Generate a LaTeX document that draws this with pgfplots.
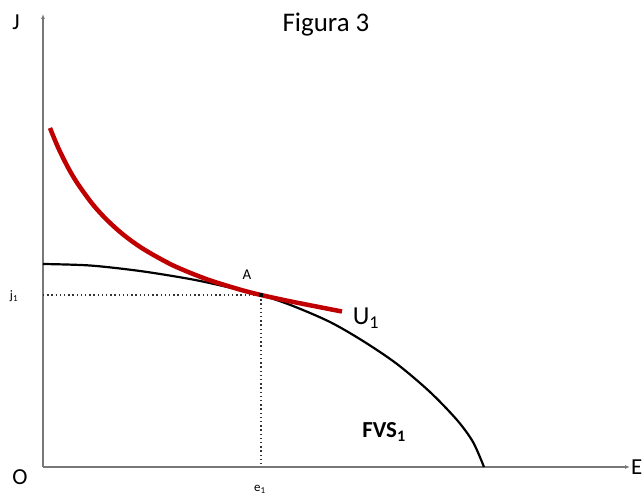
\documentclass[border=0pt]{standalone}
\usepackage{pgfplots}
\pgfplotsset{compat=1.18}
\usepackage{fontspec}
\setmainfont{Carlito}
\usetikzlibrary{arrows.meta}
\definecolor{ucurve}{RGB}{192,0,0}
\definecolor{axgray}{RGB}{120,120,120}
\begin{document}
\begin{tikzpicture}
\begin{axis}[
    name=main,
    scale only axis,
    width=644bp, height=496bp,
    xmin=-43, xmax=601,
    ymin=-29, ymax=467,
    hide axis,
    clip=false,
]
% axes
\addplot[axgray, line width=1.3bp, -{Latex[length=5bp,width=4bp]}] coordinates {(0,0) (0,453)};
\addplot[axgray, line width=1.3bp, -{Latex[length=5bp,width=4bp]}] coordinates {(0,0) (587,0)};
% dotted guides to A
\addplot[black!80, line width=1.6bp, dash pattern=on 1.4bp off 2.8bp] coordinates {(0,172) (218,172)};
\addplot[black!80, line width=1.6bp, dash pattern=on 1.4bp off 2.8bp] coordinates {(218,172) (218,0)};
% frontier FVS1
\addplot[black, line width=2.2bp, smooth] coordinates {
    (0,203) (47,201.5) (97,196) (147,188) (180,181) (218,172) (250,161)
    (287,145) (320,126) (354,103) (387,75) (414,47) (430,25) (441,0)
};
% indifference curve U1
\addplot[ucurve, line width=4.5bp, smooth] coordinates {
    (7,339) (15,319.7) (25,299.5) (35,282.8) (50,262.3) (64,247) (80,232.6)
    (100,218.2) (130,201.6) (164,187.7) (197,177.4) (218,172) (250,165.1) (299,155.5)
};
\addplot[only marks, mark=square*, mark size=1.6bp, black] coordinates {(218,172)};
% labels
\node at (axis cs:283,442) {\fontsize{27}{30}\selectfont Figura 3};
\node at (axis cs:-27,445) {\fontsize{23}{26}\selectfont J};
\node at (axis cs:-29,171) {\fontsize{13}{15}\selectfont j\textsubscript{1}};
\node at (axis cs:-23,-10) {\fontsize{23}{26}\selectfont O};
\node at (axis cs:217,-22) {\fontsize{13}{15}\selectfont e\textsubscript{1}};
\node[anchor=west, inner sep=1bp] at (axis cs:587,0) {\fontsize{23}{26}\selectfont E};
\node at (axis cs:204,192) {\fontsize{15}{17}\selectfont A};
\node at (axis cs:323,149) {\fontsize{26}{29}\selectfont U\textsubscript{1}};
\node at (axis cs:341,35) {\fontsize{23}{26}\selectfont\bfseries FVS\textsubscript{1}};
\end{axis}
\pgfresetboundingbox
\useasboundingbox (main.south west) rectangle (main.north east);
\end{tikzpicture}
\end{document}
